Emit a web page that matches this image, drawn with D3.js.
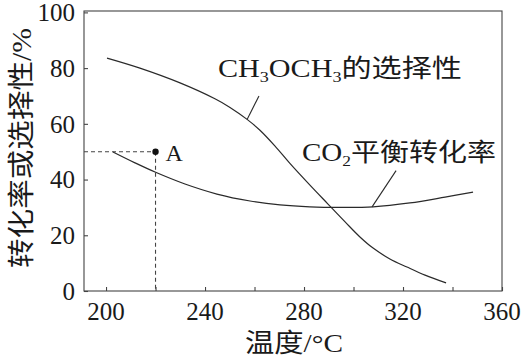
<!DOCTYPE html>
<html>
<head>
<meta charset="utf-8">
<script src="https://cdn.jsdelivr.net/npm/d3@7"></script>
<style>
  html, body { margin: 0; padding: 0; background: #fff; }
  svg { display: block; }
  text { font-family: "Liberation Serif", "Noto Sans CJK SC", serif; fill: #1a1a1a; }
</style>
</head>
<body>
<svg id="chart" width="523" height="358"></svg>
<script>
// ---- data ----
const xTicks = [200, 220, 240, 260, 280, 300, 320, 340, 360];
const xTickLabels = [200, 240, 280, 320, 360];
const yTicks = [0, 20, 40, 60, 80, 100];

// CH3OCH3 selectivity (%) vs temperature (°C)
const dmeTemp = [200.4, 213.7, 229.9, 244.0, 250.1, 257.0, 262.2, 268.3, 274.3, 282.4, 289.7, 296.6, 302.6, 307.9, 314.7, 321.6, 328.9, 337.4];
const dmeSel  = [83.6, 80.0, 74.7, 69.0, 65.9, 61.6, 57.7, 52.0, 45.8, 38.0, 31.2, 24.8, 19.4, 15.4, 11.5, 8.6, 5.7, 2.9];

// CO2 equilibrium conversion (%) vs temperature (°C)
const co2Temp = [202.8, 211.7, 219.8, 231.9, 244.8, 258.2, 270.3, 282.4, 294.5, 307.9, 322.8, 337.0, 348.3];
const co2Conv = [49.9, 46.0, 42.7, 38.4, 34.8, 32.3, 30.9, 30.2, 30.0, 30.2, 31.6, 33.7, 35.5];

// point A
const pointA = { t: 220, v: 50 };

(function () {
  const svg = d3.select("#chart");
  const mLeft = 84, mRight = 502, mTop = 11, mBottom = 291;
  const x = d3.scaleLinear().domain([191.1, 360]).range([mLeft, mRight]);
  const y = d3.scaleLinear().domain([0, 100.5]).range([mBottom, mTop]);

  const ink = "#2a2a2a";

  // frame
  svg.append("rect")
    .attr("x", mLeft).attr("y", mTop)
    .attr("width", mRight - mLeft).attr("height", mBottom - mTop)
    .attr("fill", "none").attr("stroke", "#444").attr("stroke-width", 1.1);

  // x axis ticks (inside)
  const xAxis = d3.axisBottom(x).tickValues(xTicks).tickSize(-4).tickSizeOuter(0).tickFormat("");
  const gx = svg.append("g").attr("transform", `translate(0,${mBottom})`).call(xAxis);
  gx.select(".domain").remove();
  gx.selectAll(".tick line").attr("stroke", "#444").attr("stroke-width", 1.1);

  // x tick labels
  svg.append("g").selectAll("text").data(xTickLabels).join("text")
    .attr("x", d => x(d)).attr("y", 320)
    .attr("text-anchor", "middle")
    .attr("font-size", 25)
    .text(d => d);

  // y axis ticks (inside)
  const yAxis = d3.axisLeft(y).tickValues(yTicks).tickSize(-4).tickSizeOuter(0).tickFormat("");
  const gy = svg.append("g").attr("transform", `translate(${mLeft},0)`).call(yAxis);
  gy.select(".domain").remove();
  gy.selectAll(".tick line").attr("stroke", "#444").attr("stroke-width", 1.1);

  // y tick labels
  svg.append("g").selectAll("text").data(yTicks).join("text")
    .attr("x", 75).attr("y", d => y(d))
    .attr("dy", "0.35em")
    .attr("text-anchor", "end")
    .attr("font-size", 25)
    .text(d => d);

  // axis titles
  svg.append("text")
    .attr("x", 294).attr("y", 352)
    .attr("text-anchor", "middle")
    .attr("font-size", 26)
    .attr("textLength", 98).attr("lengthAdjust", "spacingAndGlyphs")
    .text("温度/°C");

  svg.append("text")
    .attr("transform", "translate(22,148) rotate(-90)")
    .attr("text-anchor", "middle")
    .attr("dominant-baseline", "central")
    .attr("font-size", 27)
    .attr("textLength", 240).attr("lengthAdjust", "spacingAndGlyphs")
    .text("转化率或选择性/%");

  // curves
  const line = d3.line().x(d => x(d[0])).y(d => y(d[1])).curve(d3.curveCatmullRom.alpha(0.5));
  svg.append("path")
    .datum(d3.zip(dmeTemp, dmeSel))
    .attr("d", line).attr("fill", "none").attr("stroke", ink).attr("stroke-width", 1.2);
  svg.append("path")
    .datum(d3.zip(co2Temp, co2Conv))
    .attr("d", line).attr("fill", "none").attr("stroke", ink).attr("stroke-width", 1.2);

  // dashed guides to A
  svg.append("line")
    .attr("x1", x.range()[0]).attr("x2", x(pointA.t))
    .attr("y1", y(pointA.v)).attr("y2", y(pointA.v))
    .attr("stroke", "#444").attr("stroke-width", 1.1).attr("stroke-dasharray", "4,3");
  svg.append("line")
    .attr("x1", x(pointA.t)).attr("x2", x(pointA.t))
    .attr("y1", y(pointA.v)).attr("y2", y(0))
    .attr("stroke", "#444").attr("stroke-width", 1.1).attr("stroke-dasharray", "4,3");
  svg.append("circle")
    .attr("cx", x(pointA.t)).attr("cy", y(pointA.v)).attr("r", 3.2).attr("fill", "#111");
  svg.append("text")
    .attr("x", x(pointA.t) + 10).attr("y", y(pointA.v) + 9)
    .attr("font-size", 24)
    .text("A");

  // leader lines
  svg.append("line")
    .attr("x1", x(257)).attr("y1", y(61.6)).attr("x2", x(261.8)).attr("y2", y(70))
    .attr("stroke", ink).attr("stroke-width", 1.1);
  svg.append("line")
    .attr("x1", x(307.5)).attr("y1", y(30.2)).attr("x2", x(317.2)).attr("y2", y(43.2))
    .attr("stroke", ink).attr("stroke-width", 1.1);

  // curve labels
  const dmeLabel = svg.append("text")
    .attr("x", 218).attr("y", 77)
    .attr("font-size", 25)
    .attr("textLength", 244).attr("lengthAdjust", "spacingAndGlyphs");
  dmeLabel.append("tspan").text("CH");
  dmeLabel.append("tspan").attr("font-size", 15).attr("dy", 5).text("3");
  dmeLabel.append("tspan").attr("dy", -5).text("OCH");
  dmeLabel.append("tspan").attr("font-size", 15).attr("dy", 5).text("3");
  dmeLabel.append("tspan").attr("dy", -5).text("的选择性");

  const co2Label = svg.append("text")
    .attr("x", 302).attr("y", 161)
    .attr("font-size", 25)
    .attr("textLength", 194).attr("lengthAdjust", "spacingAndGlyphs");
  co2Label.append("tspan").text("CO");
  co2Label.append("tspan").attr("font-size", 15).attr("dy", 5).text("2");
  co2Label.append("tspan").attr("dy", -5).text("平衡转化率");
})();
</script>
</body>
</html>
